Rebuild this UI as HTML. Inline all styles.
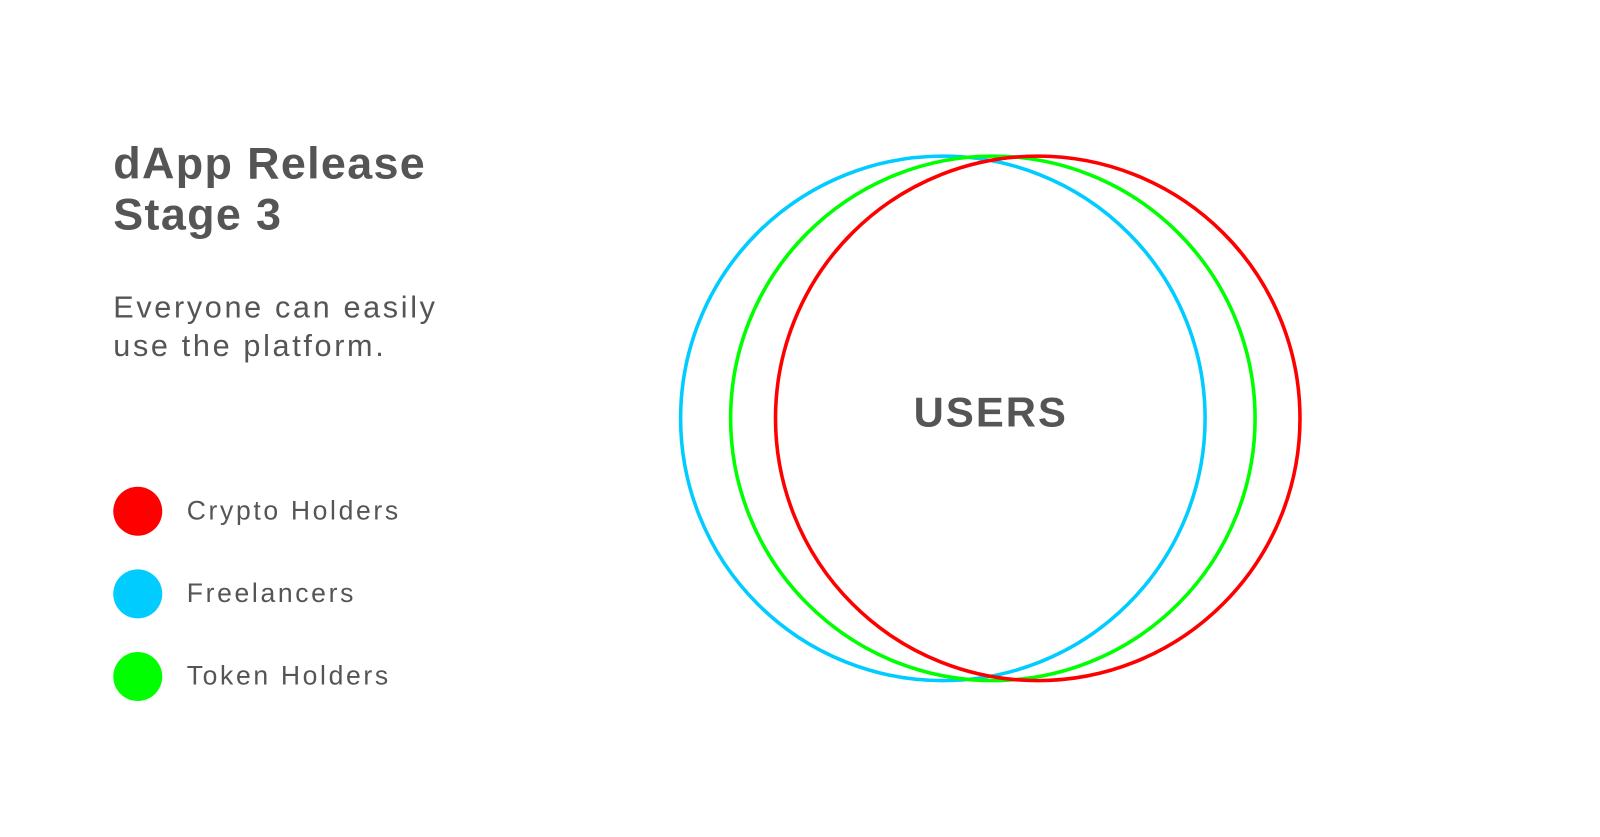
<!DOCTYPE html>
<html><head><meta charset="utf-8"><style>
html,body{margin:0;padding:0;background:#fff;}
body{width:1600px;height:837px;position:relative;overflow:hidden;font-family:"Liberation Sans",sans-serif;color:#555;}
#w{position:absolute;left:0;top:0;width:1568px;height:820px;transform:scale(1.0204);transform-origin:0 0;}
.t{position:absolute;white-space:nowrap;}
</style></head><body><div id="w">
<div class="t" style="left:111px;top:136px;font-size:44px;font-weight:bold;line-height:50px;color:#555;letter-spacing:1.3px">dApp Release<br>Stage 3</div>
<div class="t" style="left:111px;top:283px;font-size:30px;line-height:38px;color:#555;letter-spacing:2.6px">Everyone can easily<br>use the platform.</div>
<svg width="1568" height="820" style="position:absolute;left:0;top:0">
<circle cx="135" cy="501" r="24" fill="#ff0000"/>
<circle cx="135" cy="582" r="24" fill="#00ccff"/>
<circle cx="135" cy="663" r="24" fill="#00ff00"/>
<circle cx="924" cy="410" r="257" fill="none" stroke="#00ccff" stroke-width="3.5"/>
<circle cx="973" cy="410" r="257" fill="none" stroke="#00ff00" stroke-width="3.5"/>
<circle cx="1017" cy="410" r="257" fill="none" stroke="#ff0000" stroke-width="3.5"/>
<text x="971" y="418" text-anchor="middle" font-family="Liberation Sans, sans-serif" font-weight="bold" font-size="41" fill="#555" letter-spacing="2">USERS</text>
</svg>
<div class="t" style="left:183px;top:485px;font-size:26px;line-height:30px;letter-spacing:2.6px">Crypto Holders</div>
<div class="t" style="left:183px;top:566px;font-size:26px;line-height:30px;letter-spacing:2.6px">Freelancers</div>
<div class="t" style="left:183px;top:647px;font-size:26px;line-height:30px;letter-spacing:2.6px">Token Holders</div>
</div></body></html>
